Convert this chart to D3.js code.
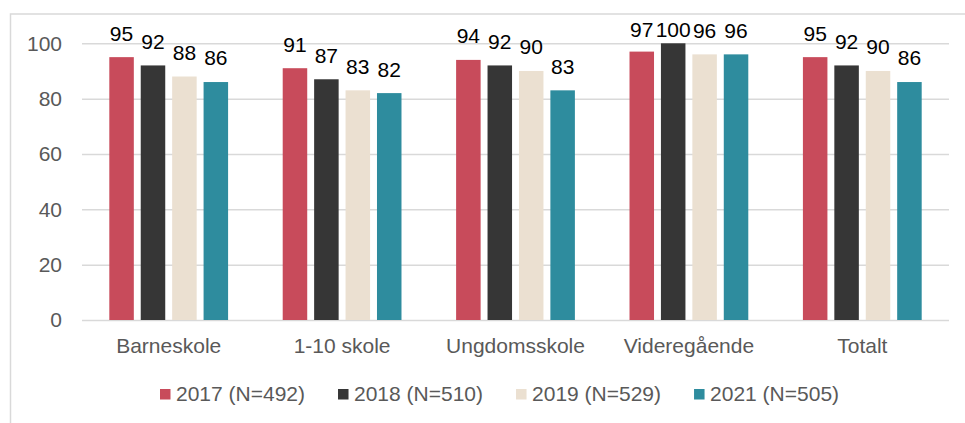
<!DOCTYPE html>
<html>
<head>
<meta charset="utf-8">
<script src="https://cdn.jsdelivr.net/npm/d3@7"></script>
<style>
    body { margin: 0; background: #fff; }
    svg { display: block; font-family: "Liberation Sans", Arial, sans-serif; }
</style>
</head>
<body>
<div id="chart"></div>
<script>
// Data
const categories = ["Barneskole", "1-10 skole", "Ungdomsskole", "Videregående", "Totalt"];
const seriesNames = ["2017 (N=492)", "2018 (N=510)", "2019 (N=529)", "2021 (N=505)"];
const values2017 = [95, 91, 94, 97, 95];
const values2018 = [92, 87, 92, 100, 92];
const values2019 = [88, 83, 90, 96, 90];
const values2021 = [86, 82, 83, 96, 86];
const yTicks = [0, 20, 40, 60, 80, 100];
const colors = ["#c84b5b", "#363636", "#ebe0d1", "#2e8c9e"];

const allSeries = [values2017, values2018, values2019, values2021];

const svgWidth = 965, svgHeight = 423;
const margin = { top: 43.3, right: 16, bottom: 103, left: 82 };
const width = svgWidth - margin.left - margin.right;
const height = svgHeight - margin.top - margin.bottom;

const svg = d3.select("#chart").append("svg")
    .attr("width", svgWidth)
    .attr("height", svgHeight);

// outer frame (extends past the picture on right and bottom)
svg.append("rect")
    .attr("x", 10.5).attr("y", 14)
    .attr("width", 1000).attr("height", 500)
    .attr("fill", "none")
    .attr("stroke", "#d9d9d9")
    .attr("stroke-width", 1.5);

const g = svg.append("g")
    .attr("transform", `translate(${margin.left},${margin.top})`);

// scales
const x0 = d3.scaleBand()
    .domain(categories)
    .range([0, width])
    .paddingInner(0.315)
    .paddingOuter(0.1575);

const x1 = d3.scaleBand()
    .domain(d3.range(seriesNames.length))
    .range([0, x0.bandwidth()])
    .paddingInner(0.22);

const y = d3.scaleLinear()
    .domain([0, 100])
    .range([height, 0]);

// y axis + gridlines
const yAxis = d3.axisLeft(y)
    .tickValues(yTicks)
    .tickSizeInner(-width)
    .tickSizeOuter(0)
    .tickPadding(20);

const yG = g.append("g").call(yAxis);
yG.select(".domain").remove();
yG.selectAll(".tick line")
    .attr("stroke", "#d9d9d9")
    .attr("stroke-width", 1.5);
yG.selectAll(".tick text")
    .attr("fill", "#595959")
    .style("font-size", "21px");

// x axis
const xAxis = d3.axisBottom(x0).tickSize(0).tickPadding(18);
const xG = g.append("g")
    .attr("transform", `translate(0,${height})`)
    .call(xAxis);
xG.select(".domain").remove();
xG.selectAll(".tick text")
    .attr("fill", "#595959")
    .style("font-size", "21px");

// bars
const groups = g.selectAll(".group")
    .data(categories)
    .join("g")
    .attr("class", "group")
    .attr("transform", d => `translate(${x0(d)},0)`);

groups.selectAll("rect")
    .data((d, ci) => allSeries.map((s, si) => ({ si: si, value: s[ci] })))
    .join("rect")
    .attr("x", d => x1(d.si))
    .attr("y", d => y(d.value))
    .attr("width", x1.bandwidth())
    .attr("height", d => height - y(d.value))
    .attr("fill", d => colors[d.si]);

// value labels (kept inside the plot top)
groups.selectAll("text.val")
    .data((d, ci) => allSeries.map((s, si) => ({ si: si, value: s[ci] })))
    .join("text")
    .attr("class", "val")
    .attr("x", d => x1(d.si) + x1.bandwidth() / 2)
    .attr("y", d => Math.max(y(d.value) - 16.6, -6))
    .attr("text-anchor", "middle")
    .attr("fill", "#000")
    .style("font-size", "21px")
    .text(d => d.value);

// legend
const legend = svg.append("g");
let lx = 160;
seriesNames.forEach(function(name, i) {
    const item = legend.append("g").attr("transform", `translate(${lx},0)`);
    item.append("rect")
        .attr("x", 0).attr("y", 389)
        .attr("width", 10.5).attr("height", 10.5)
        .attr("fill", colors[i]);
    const t = item.append("text")
        .attr("x", 16).attr("y", 400.5)
        .attr("fill", "#595959")
        .style("font-size", "21px")
        .text(name);
    lx += 16 + t.node().getComputedTextLength() + 33;
});
</script>
</body>
</html>
